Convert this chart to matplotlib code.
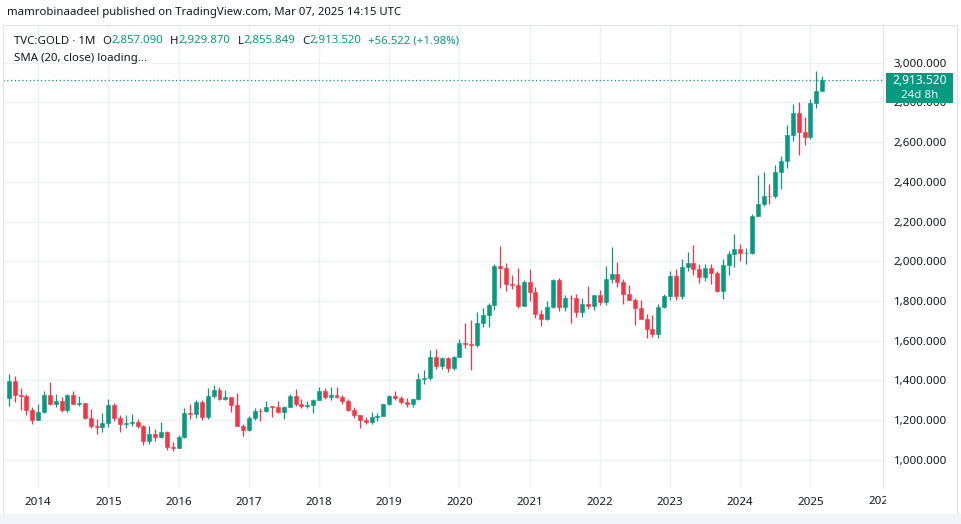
import matplotlib
matplotlib.use("Agg")
import matplotlib.pyplot as plt
from matplotlib.patches import Rectangle
from matplotlib.transforms import Bbox

W, H = 962, 524

# TVC:GOLD monthly candles, Aug 2013 .. Mar 2025
first_index = -5   # Aug 2013, counted in months from Jan 2014
opens = [1312, 1396, 1327, 1323, 1250,
         1202, 1240, 1326, 1284, 1296, 1250, 1327, 1282, 1287, 1210, 1171, 1167,
         1184, 1279, 1213, 1183, 1184, 1190, 1172, 1095, 1133, 1115, 1142, 1065,
         1061, 1116, 1238, 1233, 1293, 1215, 1322, 1351, 1309, 1316, 1277, 1173,
         1152, 1211, 1249, 1247, 1269, 1268, 1242, 1269, 1322, 1280, 1271, 1275,
         1303, 1345, 1318, 1325, 1315, 1299, 1253, 1224, 1201, 1192, 1215, 1222,
         1282, 1321, 1313, 1292, 1284, 1305, 1409, 1413, 1520, 1472, 1513, 1464,
         1517, 1589, 1585, 1577, 1687, 1730, 1781, 1975, 1967, 1886, 1879, 1776,
         1898, 1847, 1734, 1708, 1769, 1907, 1770, 1814, 1813, 1743, 1783, 1775,
         1829, 1797, 1909, 1937, 1897, 1837, 1807, 1766, 1711, 1661, 1633, 1768,
         1824, 1928, 1826, 1969, 1990, 1963, 1919, 1965, 1940, 1849, 1983, 2036,
         2063, 2040, 2044, 2230, 2286, 2327, 2326, 2447, 2503, 2634, 2744, 2650,
         2625, 2798, 2857.090]
highs = [1433, 1424, 1361, 1333, 1267,
         1280, 1345, 1392, 1331, 1315, 1332, 1345, 1324, 1287, 1255, 1208, 1238,
         1307, 1286, 1224, 1225, 1232, 1205, 1174, 1170, 1157, 1192, 1146, 1088,
         1127, 1263, 1283, 1304, 1303, 1362, 1375, 1367, 1352, 1317, 1337, 1180,
         1220, 1264, 1261, 1296, 1271, 1296, 1272, 1331, 1357, 1306, 1299, 1309,
         1366, 1361, 1365, 1365, 1326, 1309, 1265, 1224, 1214, 1243, 1237, 1284,
         1326, 1346, 1324, 1310, 1306, 1439, 1453, 1555, 1557, 1518, 1516, 1525,
         1611, 1689, 1703, 1747, 1765, 1789, 1984, 2075, 1992, 1933, 1965, 1906,
         1959, 1871, 1755, 1798, 1913, 1916, 1832, 1832, 1834, 1814, 1877, 1831,
         1853, 1974, 2070, 1998, 1910, 1879, 1814, 1807, 1735, 1729, 1786, 1833,
         1949, 1959, 2009, 2049, 2082, 1984, 1987, 1987, 1953, 2009, 2052, 2135,
         2088, 2065, 2236, 2432, 2450, 2387, 2483, 2531, 2685, 2790, 2801, 2726,
         2817, 2956, 2929.870]
lows = [1270, 1292, 1251, 1226, 1181,
        1202, 1238, 1277, 1268, 1241, 1240, 1281, 1273, 1206, 1160, 1131, 1142,
        1167, 1197, 1142, 1162, 1169, 1162, 1077, 1080, 1098, 1113, 1052, 1046,
        1061, 1111, 1208, 1212, 1199, 1207, 1311, 1301, 1302, 1241, 1171, 1122,
        1146, 1200, 1195, 1243, 1214, 1236, 1204, 1267, 1273, 1260, 1264, 1236,
        1302, 1307, 1302, 1313, 1282, 1246, 1211, 1160, 1180, 1182, 1196, 1221,
        1275, 1302, 1281, 1266, 1266, 1301, 1382, 1400, 1459, 1459, 1445, 1454,
        1517, 1563, 1451, 1568, 1670, 1671, 1757, 1863, 1849, 1860, 1764, 1775,
        1802, 1717, 1676, 1704, 1765, 1751, 1750, 1687, 1722, 1721, 1758, 1753,
        1780, 1781, 1890, 1872, 1787, 1805, 1681, 1709, 1615, 1617, 1616, 1765,
        1804, 1804, 1810, 1950, 1932, 1893, 1903, 1885, 1846, 1810, 1931, 1973,
        2002, 1984, 2039, 2228, 2277, 2286, 2319, 2364, 2471, 2604, 2537, 2583,
        2615, 2772, 2855.849]
closes = [1396, 1327, 1323, 1250, 1202,
          1240, 1326, 1284, 1296, 1250, 1327, 1282, 1287, 1210, 1171, 1167, 1184,
          1279, 1213, 1183, 1184, 1190, 1172, 1095, 1133, 1115, 1142, 1065, 1061,
          1116, 1238, 1233, 1293, 1215, 1322, 1351, 1309, 1316, 1277, 1173, 1152,
          1211, 1249, 1247, 1269, 1268, 1242, 1269, 1322, 1280, 1271, 1275, 1303,
          1345, 1318, 1325, 1315, 1299, 1253, 1224, 1201, 1192, 1215, 1222, 1282,
          1321, 1313, 1292, 1284, 1305, 1409, 1413, 1520, 1472, 1513, 1464, 1517,
          1589, 1585, 1577, 1687, 1730, 1781, 1975, 1967, 1886, 1879, 1776, 1898,
          1847, 1734, 1708, 1769, 1907, 1770, 1814, 1813, 1743, 1783, 1775, 1829,
          1797, 1909, 1937, 1897, 1837, 1807, 1766, 1711, 1661, 1633, 1768, 1824,
          1928, 1826, 1969, 1990, 1963, 1919, 1965, 1940, 1849, 1983, 2036, 2063,
          2040, 2044, 2230, 2286, 2327, 2326, 2447, 2503, 2634, 2744, 2650, 2625,
          2798, 2856.998, 2913.520]

years = list(range(2014, 2026))
price_ticks = list(range(1000, 3001, 200))

GREEN = "#089981"
RED = "#F23645"
TEXT = "#131722"
GRID = "#eef0f4"
BORDER = "#e0e3eb"

plt.rcParams["font.family"] = ["Noto Sans", "DejaVu Sans"]


def fx(x):
    return x / W


def fy(y):
    return 1 - y / H


fig = plt.figure(figsize=(W / 100, H / 100), dpi=100)
fig.patch.set_facecolor("white")

# chart pane: x 3..883 px, y 25..488 px
ax = fig.add_axes([fx(3), fy(488), fx(883) - fx(3), fy(25) - fy(488)])
ax.set_xlim(-6.0, 144.4)
ax.set_ylim(859, 3189)

xs = [first_index + i for i in range(len(opens))]
for x, o, h, l, c in zip(xs, opens, highs, lows, closes):
    col = GREEN if c >= o else RED
    ax.vlines(x, l, h, color=col, lw=0.9, zorder=3)
    ax.bar(x, max(abs(c - o), 1.5), bottom=min(o, c), width=0.68,
           color=col, edgecolor=col, linewidth=0.4, zorder=4)

# last price line
ax.axhline(closes[-1], color=GREEN, lw=0.9, linestyle=(0, (1, 2)), zorder=2)

ax.set_xticks([(y - 2014) * 12 for y in years])
ax.set_xticklabels([str(y) for y in years])
ax.set_yticks(price_ticks)
ax.set_yticklabels([f"{p:,.3f}" for p in price_ticks])
ax.yaxis.tick_right()
ax.tick_params(axis="both", length=0, colors=TEXT, labelsize=8.3)
ax.tick_params(axis="x", pad=6.5)
ax.tick_params(axis="y", pad=7.8)
ax.grid(True, color=GRID, lw=1, zorder=0)
ax.set_axisbelow(True)
for side in ["top", "left", "bottom"]:
    ax.spines[side].set_visible(False)
ax.spines["right"].set_color(BORDER)
ax.spines["right"].set_linewidth(0.8)

# 2026 label, cut by the price scale
t26 = fig.text(fx(882), fy(502), "2026", ha="center", va="center",
               fontsize=8.3, color=TEXT)
t26.set_clip_box(Bbox.from_extents(0, 0, 886, H))
t26.set_clip_on(True)

# outer frame and footer strip
fig.add_artist(Rectangle((fx(3), fy(514)), fx(957) - fx(3), fy(25) - fy(514),
                         transform=fig.transFigure, fill=False,
                         edgecolor=BORDER, lw=0.8))
fig.add_artist(Rectangle((0, 0), 1, fy(514), transform=fig.transFigure,
                         facecolor="#f3f4f7", edgecolor="none"))

# last price label
fig.add_artist(Rectangle((fx(886), fy(103)), fx(953) - fx(886), fy(73) - fy(103),
                         transform=fig.transFigure, facecolor=GREEN,
                         edgecolor="none", zorder=5))
fig.text(fx(919.5), fy(81), f"{closes[-1]:,.3f}", ha="center", va="center",
         fontsize=8.6, color="white", fontweight="bold", zorder=6)
fig.text(fx(919.5), fy(95), "24d 8h", ha="center", va="center",
         fontsize=8.3, color="#e6f5f2", zorder=6)

# header
fig.text(fx(7), fy(13), "mamrobinaadeel published on TradingView.com, "
         "Mar 07, 2025 14:15 UTC", ha="left", va="center", fontsize=8.2,
         color=TEXT)

renderer = fig.canvas.get_renderer()


def text_run(x, y, parts, size=8.2):
    for s, col, gap in parts:
        t = fig.text(fx(x), fy(y), s, ha="left", va="center", fontsize=size,
                     color=col, zorder=6)
        x += t.get_window_extent(renderer).width + gap


change = closes[-1] - closes[-2]
text_run(14, 41, [
    ("TVC:GOLD · 1M", TEXT, 7),
    ("O", TEXT, 0), (f"{opens[-1]:,.3f}", GREEN, 7),
    ("H", TEXT, 0), (f"{highs[-1]:,.3f}", GREEN, 7),
    ("L", TEXT, 0), (f"{lows[-1]:,.3f}", GREEN, 7),
    ("C", TEXT, 0), (f"{closes[-1]:,.3f}", GREEN, 7),
    (f"+{change:,.3f} (+{change / closes[-2] * 100:.2f}%)", GREEN, 0),
])
text_run(14, 58, [("SMA (20, close) loading...", TEXT, 0)])

fig.savefig("out.png", dpi=100)
